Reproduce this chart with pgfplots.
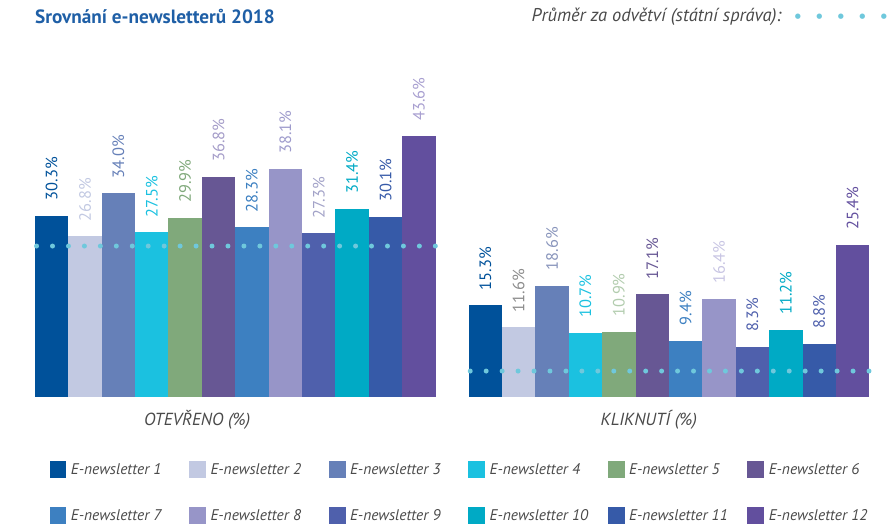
\documentclass[border=0pt]{standalone}
\usepackage{pgfplots}
\pgfplotsset{compat=1.18}
\usepackage{fontspec}
\setmainfont{PT Sans}
\newfontfamily\dejavu{DejaVu Sans}

\definecolor{c1}{HTML}{00519A}
\definecolor{c2}{HTML}{C2C9E2}
\definecolor{c3}{HTML}{6680B8}
\definecolor{c4}{HTML}{1BC1E0}
\definecolor{c5}{HTML}{80A97B}
\definecolor{c6}{HTML}{675794}
\definecolor{c7}{HTML}{3D80C1}
\definecolor{c8}{HTML}{9795C8}
\definecolor{c9}{HTML}{4F60AC}
\definecolor{c10}{HTML}{00AAC5}
\definecolor{c11}{HTML}{365AA8}
\definecolor{c12}{HTML}{624F9E}
\definecolor{la6}{HTML}{A49CC8}
\definecolor{la8}{HTML}{9E9BCC}
\definecolor{la9}{HTML}{A3A3C8}
\definecolor{la12}{HTML}{A89FD0}
\definecolor{lb2}{HTML}{8C8C8C}
\definecolor{lb3}{HTML}{8894BB}
\definecolor{lb5}{HTML}{B2CCAE}
\definecolor{lb8}{HTML}{C8C5E3}
\definecolor{avgc}{HTML}{6FC8DC}
\definecolor{titleblue}{HTML}{1F5FA6}
\definecolor{txtgray}{HTML}{4A4A4A}

\pgfplotsset{
  nb/.style 2 args={fill=#1, draw=none,
    nodes near coords={\pgfmathprintnumber[fixed,fixed zerofill,precision=1,assume math mode=true]{\pgfplotspointmeta}\%},
    every node near coord/.style={text=#2, yshift=15pt, rotate=90, anchor=west, inner sep=0pt, font=\fontsize{16.5}{17}\selectfont},
    legend image code/.code={\path[fill=#1] (0pt,-8.5pt) rectangle (17pt,8.5pt);}},
  panel/.style={
    ybar, bar width=1, bar shift=0pt,
    width=402pt, height=300pt, scale only axis,
    xmin=-0.5, xmax=11.5, ymin=0, ymax=50,
    axis line style={draw=none}, xtick=\empty, ytick=\empty,
    clip=false,
    xlabel style={font=\fontsize{17.5}{18}\selectfont\itshape, text=txtgray, anchor=center},
  },
}

\newcommand{\lt}[1]{\makebox[105pt][l]{#1}}

\begin{document}
\begin{tikzpicture}
\path (0pt,0pt) rectangle (887pt,525pt);

\node[anchor=west, inner sep=0pt, text=titleblue, font=\fontsize{19.3}{20}\selectfont\bfseries] at (35pt,508pt) {Srovnání e-newsletterů 2018};
\node[anchor=east, inner sep=0pt, text=txtgray, font=\fontsize{18.5}{19}\selectfont\itshape] at (784pt,508pt) {Průměr za odvětví (státní správa):};
\node[anchor=west, inner sep=0pt, text=avgc, font=\fontsize{7}{8}\dejavu] at (797pt,508pt) {●\hspace{15.5pt}●\hspace{15.5pt}●\hspace{15.5pt}●\hspace{15.5pt}●};

\begin{axis}[panel, at={(35pt,127pt)}, anchor=south west,
  xlabel={OTEVŘENO (\%)},
  xlabel style={at={(axis description cs:0.405,0)}, yshift=-23pt},
  legend columns=6,
  legend cell align=left,
  legend style={at={(axis description cs:0.0286,-0.2083)}, anchor=north west,
    draw=none, fill=none, row sep=29pt,
    nodes={inner sep=1.5pt, text=txtgray, font=\fontsize{15.5}{16}\selectfont\itshape},
    /tikz/every odd column/.append style={column sep=3pt},
    /tikz/every even column/.append style={column sep=12pt}},
]
\addplot[nb={c1}{c1}] coordinates {(0,30.3)};
\addplot[nb={c2}{c2}] coordinates {(1,26.8)};
\addplot[nb={c3}{c3}] coordinates {(2,34.0)};
\addplot[nb={c4}{c4}] coordinates {(3,27.5)};
\addplot[nb={c5}{c5}] coordinates {(4,29.9)};
\addplot[nb={c6}{la6}] coordinates {(5,36.8)};
\addplot[nb={c7}{c7}] coordinates {(6,28.3)};
\addplot[nb={c8}{la8}] coordinates {(7,38.1)};
\addplot[nb={c9}{la9}] coordinates {(8,27.3)};
\addplot[nb={c10}{c10}] coordinates {(9,31.4)};
\addplot[nb={c11}{c11}] coordinates {(10,30.1)};
\addplot[nb={c12}{la12}] coordinates {(11,43.6)};
\legend{\lt{E-newsletter 1},\lt{E-newsletter 2},\lt{E-newsletter 3},\lt{E-newsletter 4},\lt{E-newsletter 5},\lt{E-newsletter 6},\lt{E-newsletter 7},\lt{E-newsletter 8},\lt{E-newsletter 9},\lt{E-newsletter 10},\lt{E-newsletter 11},\lt{E-newsletter 12}}
\addplot[sharp plot, draw=avgc, line width=5pt, line cap=round, dash pattern=on 0pt off 16pt, forget plot] coordinates {(-0.45,25.2) (11.5,25.2)};
\end{axis}

\begin{axis}[panel, at={(470pt,127pt)}, anchor=south west,
  xlabel={KLIKNUTÍ (\%)},
  xlabel style={at={(axis description cs:0.45,0)}, yshift=-23pt},
]
\addplot[nb={c1}{c1}] coordinates {(0,15.3)};
\addplot[nb={c2}{lb2}] coordinates {(1,11.6)};
\addplot[nb={c3}{lb3}] coordinates {(2,18.6)};
\addplot[nb={c4}{c4}] coordinates {(3,10.7)};
\addplot[nb={c5}{lb5}] coordinates {(4,10.9)};
\addplot[nb={c6}{c6}] coordinates {(5,17.1)};
\addplot[nb={c7}{c7}] coordinates {(6,9.4)};
\addplot[nb={c8}{lb8}] coordinates {(7,16.4)};
\addplot[nb={c9}{c9}] coordinates {(8,8.3)};
\addplot[nb={c10}{c10}] coordinates {(9,11.2)};
\addplot[nb={c11}{c9}] coordinates {(10,8.8)};
\addplot[nb={c12}{c12}] coordinates {(11,25.4)};
\addplot[sharp plot, draw=avgc, line width=5pt, line cap=round, dash pattern=on 0pt off 16pt, forget plot] coordinates {(-0.45,4.3) (11.5,4.3)};
\end{axis}
\end{tikzpicture}
\end{document}
